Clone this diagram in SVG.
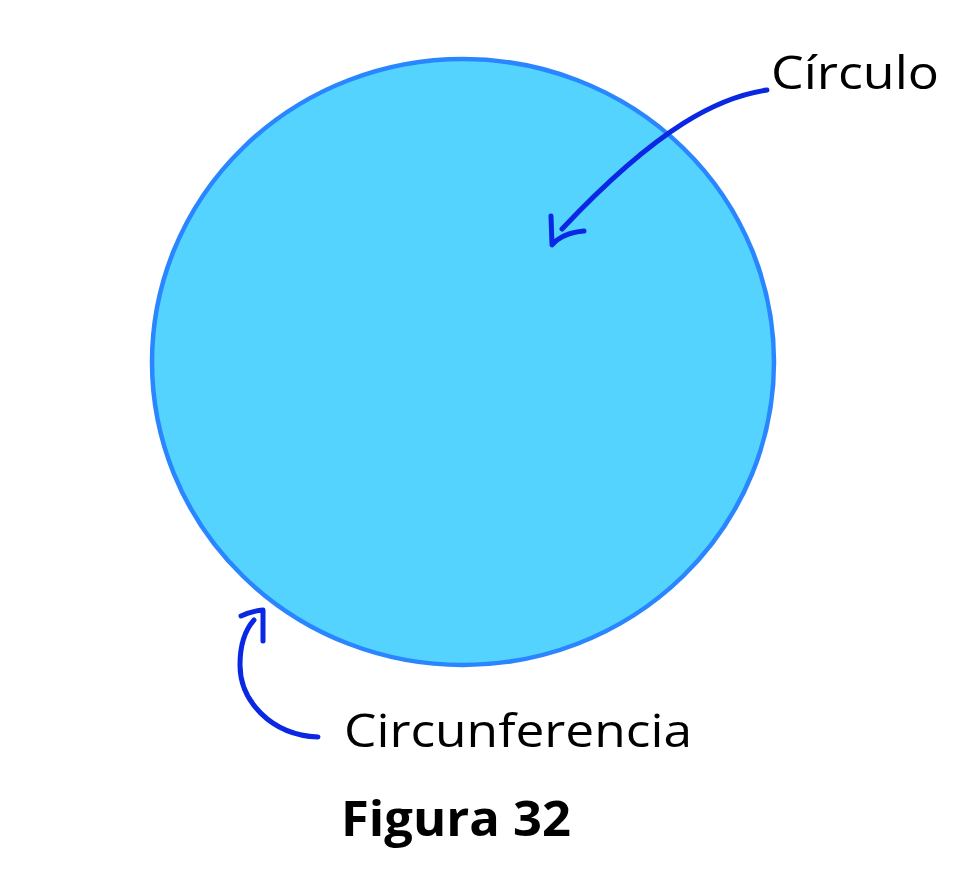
<svg xmlns="http://www.w3.org/2000/svg" width="961" height="887" viewBox="0 0 961 887">
<style>
.lbl{font-family:"Open Sans","Liberation Sans",sans-serif;font-size:46px;font-weight:400;fill:#000;}
.arr{fill:none;stroke:#0a28e4;stroke-width:5;stroke-linecap:round;stroke-linejoin:round;}
.title{font-family:"Open Sans","Liberation Sans",sans-serif;font-size:48px;font-weight:700;fill:#000;}
</style>
<rect width="961" height="887" fill="#fff"/>
<g id="circle">
<ellipse cx="463" cy="362" rx="311" ry="303" fill="#55d3ff" stroke="#2a86ff" stroke-width="4.5"/>
</g>
<g id="label-circulo">
<text class="lbl" x="771" y="89" textLength="168" lengthAdjust="spacingAndGlyphs">Círculo</text>
</g>
<g id="label-circunferencia">
<text class="lbl" x="344" y="747" textLength="348" lengthAdjust="spacingAndGlyphs">Circunferencia</text>
</g>
<g id="title">
<text class="title" x="341" y="836" textLength="230" lengthAdjust="spacingAndGlyphs">Figura 32</text>
</g>
<g id="connectors">
<path class="arr" d="M767,90 C720,97 660,125 562,229"/>
<path class="arr" d="M551,216 L552,245 Q562,233 584,231"/>
<path class="arr" d="M318,737 C270,735 240,700 240,665 C240,645 245,630 254,620"/>
<path class="arr" d="M241,616 Q252,611 263,610 L263,641"/>
</g>
</svg>
